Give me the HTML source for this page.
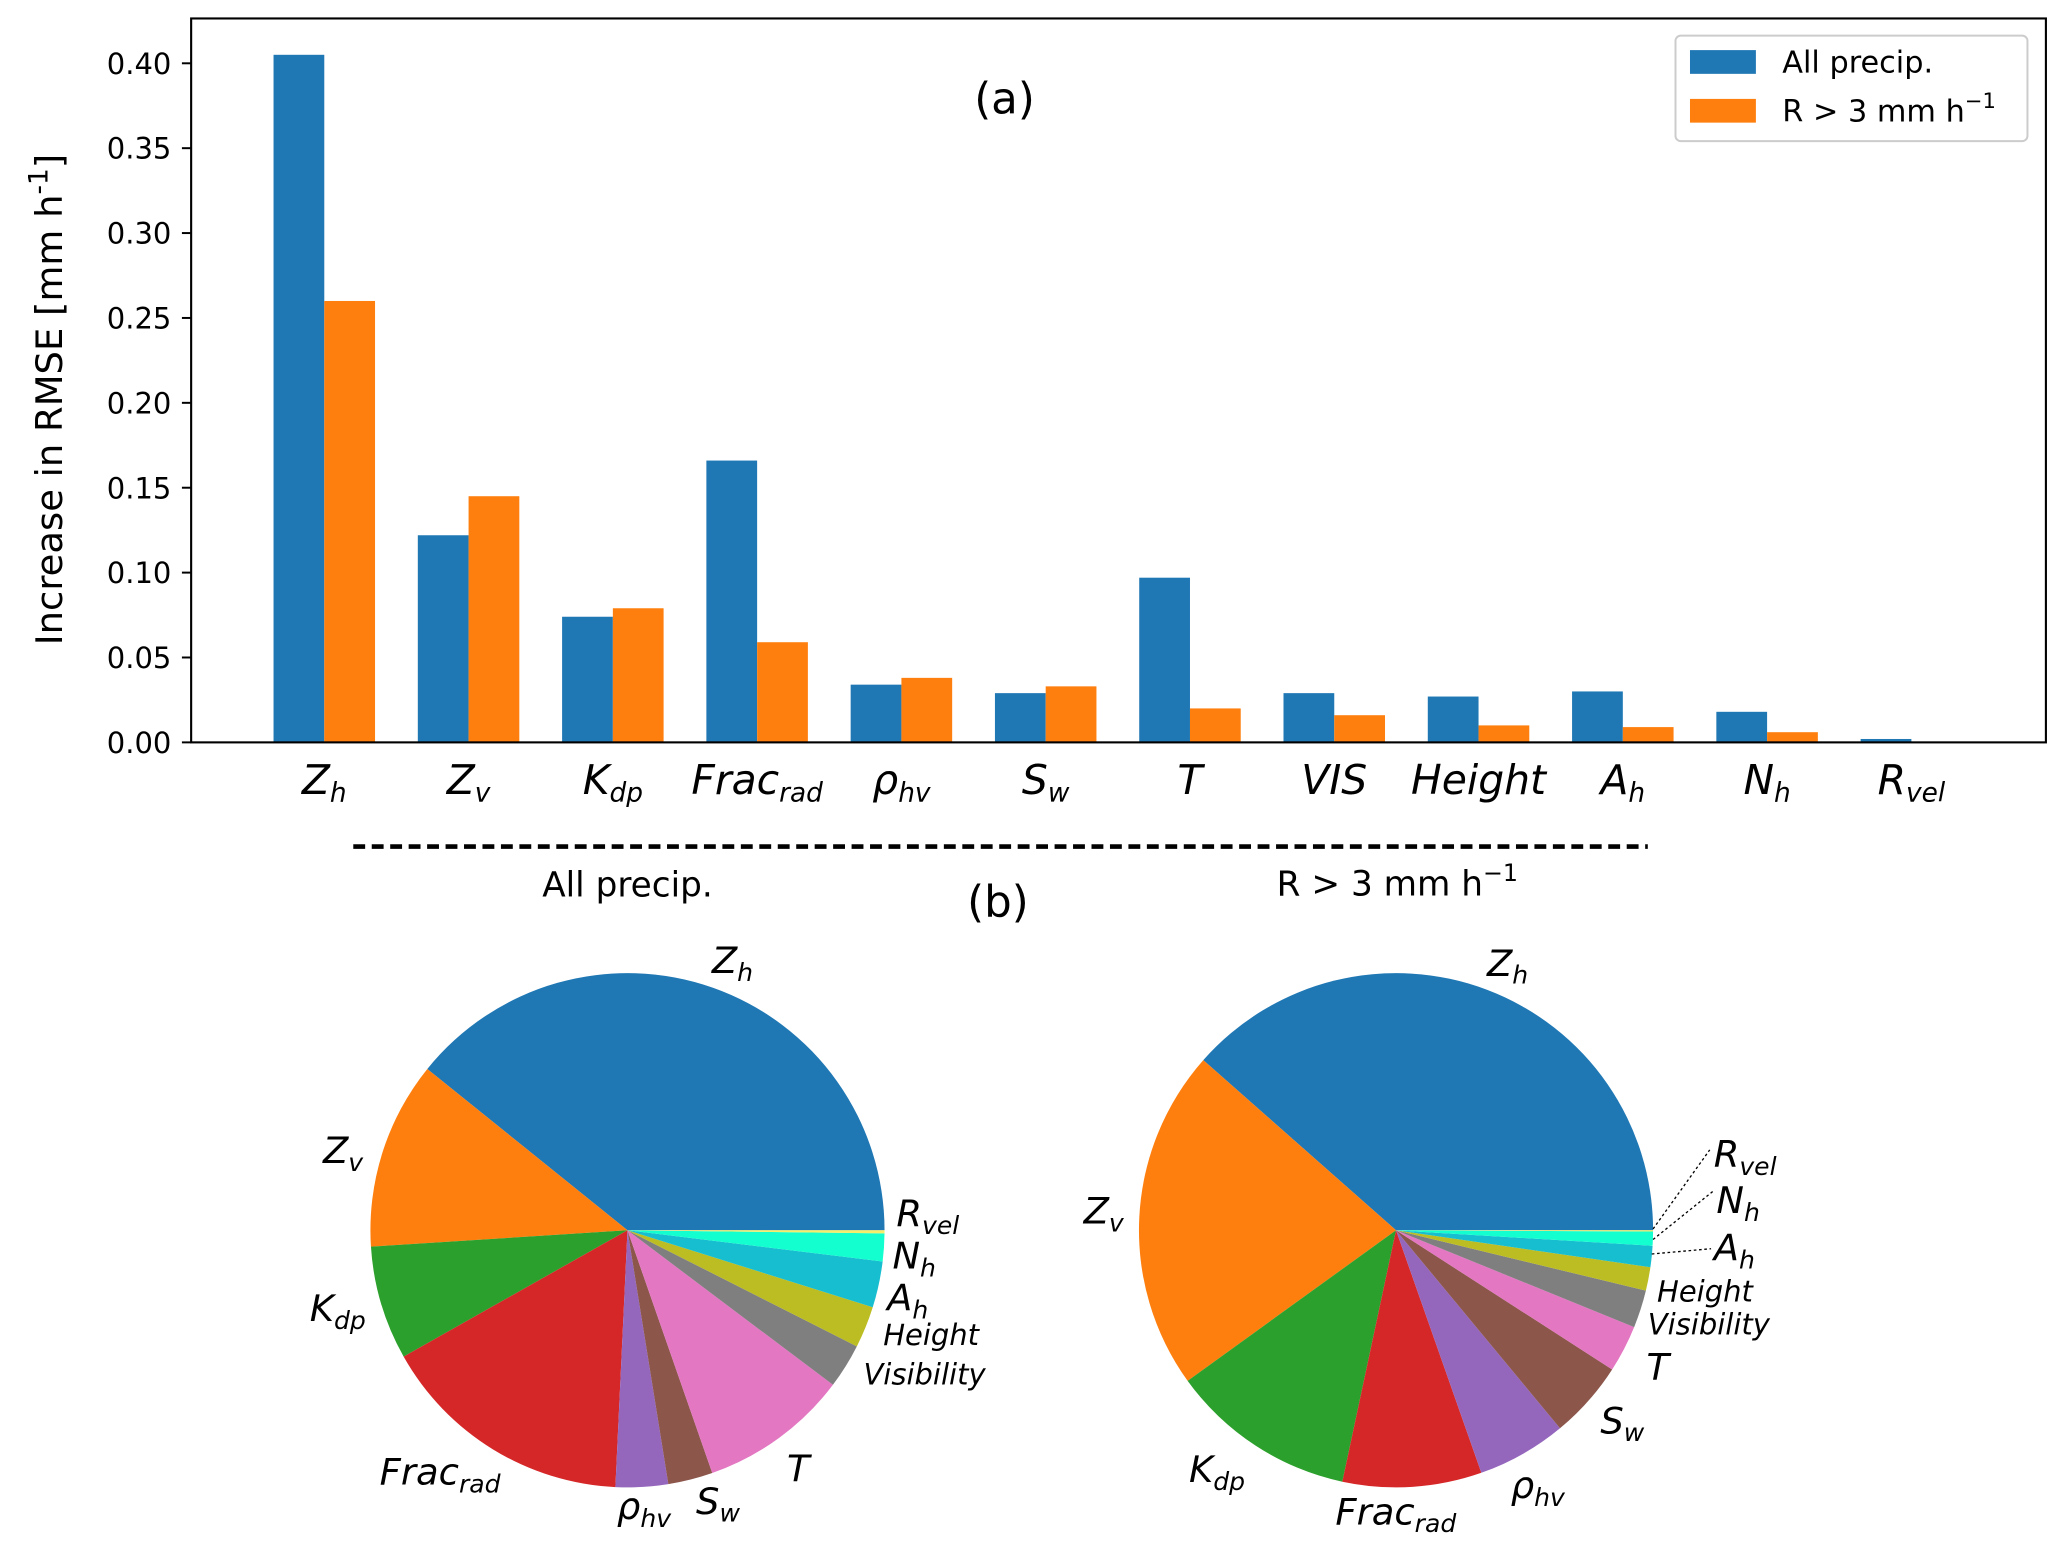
<!DOCTYPE html>
<html><head><meta charset="utf-8"><style>
html,body{margin:0;padding:0;background:#fff;}
svg{display:block;}
text{font-family:"DejaVu Sans","Liberation Sans",sans-serif;}
.it{font-style:italic;}
</style></head><body>
<svg id="fig" width="2067" height="1552" viewBox="0 0 1568 1177" preserveAspectRatio="none" xmlns="http://www.w3.org/2000/svg">
<g id="bars"></g>
<rect x="145" y="14" width="1407" height="549" fill="none" stroke="#000" stroke-width="1.6"/>
<g id="yticks"></g>
<g id="xlabels"></g>
<text transform="translate(47,303) rotate(-90)" text-anchor="middle" font-size="28">Increase in RMSE [mm  h<tspan dy="-11" font-size="20">-1</tspan><tspan dy="11">]</tspan></text>
<text x="762" y="86" text-anchor="middle" font-size="33">(a)</text>
<g>
<rect x="1271" y="27" width="267" height="80" rx="4" fill="#fff" stroke="#ccc" stroke-width="1.5"/>
<rect x="1282" y="38" width="50" height="18" fill="#1f77b4"/>
<text x="1352" y="55" font-size="23">All precip.</text>
<rect x="1282" y="75" width="50" height="18" fill="#ff7f0e"/>
<text x="1352" y="92" font-size="23">R &gt; 3 mm h<tspan dy="-10" font-size="16">−1</tspan></text>
</g>
<line x1="268" y1="642" x2="1250" y2="642" stroke="#000" stroke-width="3.5" stroke-dasharray="9,5"/>
<text x="476" y="680" text-anchor="middle" font-size="26">All precip.</text>
<text x="757" y="695" text-anchor="middle" font-size="33">(b)</text>
<text x="1060" y="679" text-anchor="middle" font-size="26">R &gt; 3 mm h<tspan dy="-11" font-size="18">−1</tspan></text>
<g id="pie1"></g>
<g id="pie2"></g>
<g class="it" font-size="28">
<text x="540" y="738">Z<tspan font-size="19" dy="6">h</tspan></text>
<text x="245" y="882">Z<tspan font-size="19" dy="6">v</tspan></text>
<text x="235" y="1002">K<tspan font-size="19" dy="6">dp</tspan></text>
<text x="288" y="1126">Frac<tspan font-size="19" dy="6">rad</tspan></text>
<text x="468" y="1152">ρ<tspan font-size="19" dy="6">hv</tspan></text>
<text x="528" y="1148">S<tspan font-size="19" dy="6">w</tspan></text>
<text x="597" y="1123">T</text>
<text x="680" y="930">R<tspan font-size="19" dy="6">vel</tspan></text>
<text x="677" y="962">N<tspan font-size="19" dy="6">h</tspan></text>
<text x="673" y="994">A<tspan font-size="19" dy="6">h</tspan></text>
<text x="670" y="1020" font-size="22">Height</text>
<text x="655" y="1050" font-size="22">Visibility</text>
</g>
<g class="it" font-size="28">
<text x="1128" y="740">Z<tspan font-size="19" dy="6">h</tspan></text>
<text x="822" y="928">Z<tspan font-size="19" dy="6">v</tspan></text>
<text x="902" y="1124">K<tspan font-size="19" dy="6">dp</tspan></text>
<text x="1013" y="1156">Frac<tspan font-size="19" dy="6">rad</tspan></text>
<text x="1146" y="1136">ρ<tspan font-size="19" dy="6">hv</tspan></text>
<text x="1214" y="1087">S<tspan font-size="19" dy="6">w</tspan></text>
<text x="1249" y="1046">T</text>
<text x="1300" y="885">R<tspan font-size="19" dy="6">vel</tspan></text>
<text x="1302" y="920">N<tspan font-size="19" dy="6">h</tspan></text>
<text x="1300" y="956">A<tspan font-size="19" dy="6">h</tspan></text>
<text x="1257" y="987" font-size="22">Height</text>
<text x="1250" y="1012" font-size="22">Visibility</text>
<g stroke="#000" stroke-width="1" stroke-dasharray="2,2" fill="none">
<line x1="1254" y1="932" x2="1297" y2="872"/>
<line x1="1254" y1="940" x2="1300" y2="903"/>
<line x1="1253" y1="951" x2="1298" y2="947"/>
</g>
</g>
<script>
var categories=["Zh","Zv","Kdp","Frac","rho","Sw","T","VIS","Height","Ah","Nh","Rvel"];
var allPrecip=[0.405,0.122,0.074,0.166,0.034,0.029,0.097,0.029,0.027,0.030,0.018,0.002];
var heavyPrecip=[0.260,0.145,0.079,0.059,0.038,0.033,0.020,0.016,0.010,0.009,0.006,0.0005];
var yTicks=["0.00","0.05","0.10","0.15","0.20","0.25","0.30","0.35","0.40"];
var xMain=["Z","Z","K","Frac","ρ","S","T","VIS","Height","A","N","R"];
var xSub=["h","v","dp","rad","hv","w","","","","h","h","vel"];
var sliceColors=["#1f77b4","#ff7f0e","#2ca02c","#d62728","#9467bd","#8c564b","#e377c2","#7f7f7f","#bcbd22","#17becf","#14ffcf","#f5ee6a"];
var NS="http://www.w3.org/2000/svg";
function y(v){return 563-v*(515/0.40);}
function xc(i){return 246+i*109.45;}
var bw=38.5;
var bars=document.getElementById('bars');
categories.forEach(function(c,i){
  var r=document.createElementNS(NS,'rect');
  r.setAttribute('x',xc(i)-bw);r.setAttribute('y',y(allPrecip[i]));
  r.setAttribute('width',bw);r.setAttribute('height',563-y(allPrecip[i]));
  r.setAttribute('fill','#1f77b4');
  
  
  bars.appendChild(r);
  var o=document.createElementNS(NS,'rect');
  o.setAttribute('x',xc(i));o.setAttribute('y',y(heavyPrecip[i]));
  o.setAttribute('width',bw);o.setAttribute('height',563-y(heavyPrecip[i]));
  o.setAttribute('fill','#ff7f0e');
  
  
  bars.appendChild(o);
});
var yt=document.getElementById('yticks');
yTicks.forEach(function(t){
  var v=parseFloat(t);
  var l=document.createElementNS(NS,'line');
  l.setAttribute('x1',138);l.setAttribute('x2',145);l.setAttribute('y1',y(v));l.setAttribute('y2',y(v));
  l.setAttribute('stroke','#000');l.setAttribute('stroke-width','1.5');
  
  
  yt.appendChild(l);
  var tx=document.createElementNS(NS,'text');
  tx.setAttribute('x',130);tx.setAttribute('y',y(v)+8);tx.setAttribute('text-anchor','end');tx.setAttribute('font-size','22');
  tx.textContent=t;
  
  
  yt.appendChild(tx);
});
var xl=document.getElementById('xlabels');
xMain.forEach(function(m,i){
  var tx=document.createElementNS(NS,'text');
  tx.setAttribute('x',xc(i));tx.setAttribute('y',602);tx.setAttribute('text-anchor','middle');
  tx.setAttribute('font-size','31');tx.setAttribute('class','it');
  tx.textContent=m;
  if(xSub[i]){var s=document.createElementNS(NS,'tspan');s.setAttribute('font-size','20');s.setAttribute('dy','6');s.textContent=xSub[i];tx.appendChild(s);}
  
  
  xl.appendChild(tx);
});
function pie(gid,vals,cx,cy,r,prefix){
  var g=document.getElementById(gid);
  var tot=vals.reduce(function(a,b){return a+b;},0);
  var a0=0;
  vals.forEach(function(v,i){
    var a1=a0+v/tot*2*Math.PI;
    var x0=cx+r*Math.cos(a0),y0=cy-r*Math.sin(a0),x1=cx+r*Math.cos(a1),y1=cy-r*Math.sin(a1);
    var large=(a1-a0)>Math.PI?1:0;
    var p=document.createElementNS(NS,'path');
    p.setAttribute('d','M'+cx+','+cy+' L'+x0+','+y0+' A'+r+','+r+' 0 '+large+' 0 '+x1+','+y1+' Z');
    p.setAttribute('fill',sliceColors[i]);
    
    
    g.appendChild(p);
    a0=a1;
  });
}
pie('pie1',allPrecip,476,933,195,'pie1');
pie('pie2',heavyPrecip,1059,933,195,'pie2');
</script>
</svg>
</body></html>
